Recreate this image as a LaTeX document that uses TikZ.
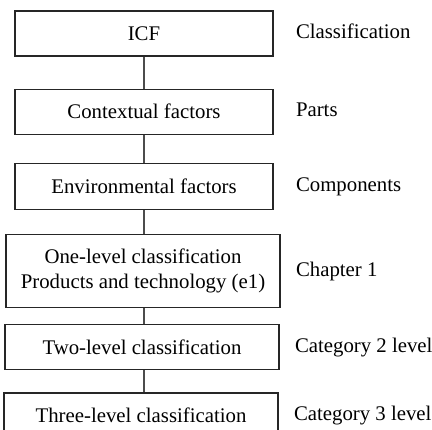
\documentclass[tikz,border=0pt]{standalone}
\usepackage{fontspec}
\setmainfont{Liberation Serif}
\usetikzlibrary{positioning}

\begin{document}
\begin{tikzpicture}
    [
        x=0.5pt, y=0.5pt, node distance=16pt and 11pt,
        font=\fontsize{10.4}{12.5}\selectfont,
        level_node/.style={rectangle, draw=black!85, line width=0.6pt, minimum width=129pt, minimum height=22.5pt, align=center, inner sep=0pt},
        wide_node/.style={level_node, minimum width=137pt, xshift=-0.5pt},
        name_node/.style={inner sep=0pt, text height=7.3pt, text depth=2.2pt},
        link_edge/.style={line width=0.6pt, color=black!70},
    ]
        \useasboundingbox (0,0) rectangle (432,429) ;
        \node[level_node] (icf) at (144,395.5) {ICF} ;
        \node[level_node] (context) [below = 16pt of icf] {Contextual factors} ;
        \node[level_node, minimum height=23pt] (env) [below = 14pt of context] {Environmental factors} ;
        \node[wide_node, minimum height=36.5pt] (one) [below = 12pt of env] {One-level classification\\Products and technology (e1)} ;
        \node[wide_node] (two) [below = 8pt of one] {Two-level classification} ;
        \node[wide_node] (three) [below = 11pt of two] {Three-level classification} ;
        \node[name_node] (classif) [right = 11pt of icf] {Classification} ;
        \node[name_node] (parts) [right = 11pt of context] {Parts} ;
        \node[name_node] (comp) [right = 11pt of env] {Components} ;
        \node[name_node] (chap) [right = 7.5pt of one] {Chapter 1} ;
        \node[name_node] (cat2) [right = 7.5pt of two] {Category 2 level} ;
        \node[name_node] (cat3) [right = 7.5pt of three] {Category 3 level} ;
        \draw[link_edge] (icf) -- (context) ;
        \draw[link_edge] (context) -- (env) ;
        \draw[link_edge] (env.south) -- (env.south |- one.north) ;
        \draw[link_edge] (one.south -| env.south) -- (env.south |- two.north) ;
        \draw[link_edge] (two.south -| env.south) -- (env.south |- three.north) ;
    \end{tikzpicture}
\end{document}
